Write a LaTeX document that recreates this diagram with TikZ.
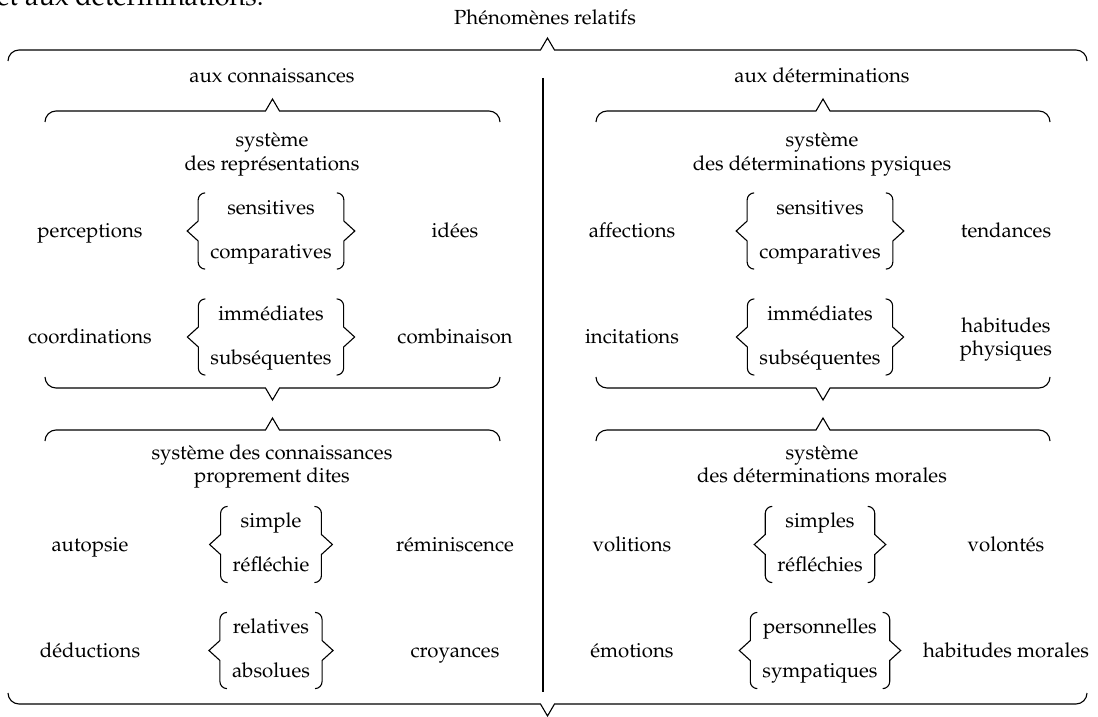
\documentclass[tikz,border=0pt]{standalone}
\usepackage[T1]{fontenc}
\usepackage{mathpazo}
\usetikzlibrary{calc, fit, positioning}

\begin{document}
\begin{tikzpicture}[
    x=0.5pt, y=0.5pt,
    font=\fontsize{10.2}{12}\selectfont,
    line width=0.55pt,
    txt/.style={inner sep=0pt, anchor=base},
    opt/.style={inner sep=0pt, anchor=base, text height=7.5pt, text depth=2.5pt},
    optbox/.style={inner xsep=2pt, inner ysep=2.5pt},
    % horizontal braces, tip up / tip down (drawn left to right)
    bracetop/.style={to path={(\tikztostart) arc[start angle=180, end angle=90, radius=11]
        -- ($(\tikztostart)!0.5!(\tikztotarget)+(-7,11)$) -- ($(\tikztostart)!0.5!(\tikztotarget)+(0,23)$)
        -- ($(\tikztostart)!0.5!(\tikztotarget)+(7,11)$) -- ($(\tikztotarget)+(-11,11)$)
        arc[start angle=90, end angle=0, radius=11]}},
    bracebot/.style={to path={(\tikztostart) arc[start angle=180, end angle=270, radius=11]
        -- ($(\tikztostart)!0.5!(\tikztotarget)+(-7,-11)$) -- ($(\tikztostart)!0.5!(\tikztotarget)+(0,-23)$)
        -- ($(\tikztostart)!0.5!(\tikztotarget)+(7,-11)$) -- ($(\tikztotarget)+(-11,-11)$)
        arc[start angle=270, end angle=360, radius=11]}},
    % vertical braces, tip left / tip right (drawn top to bottom)
    braceleft/.style={to path={(\tikztostart) arc[start angle=90, end angle=180, radius=7]
        -- ($(\tikztostart)!0.5!(\tikztotarget)+(-7,10)$) -- ($(\tikztostart)!0.5!(\tikztotarget)+(-18,0)$)
        -- ($(\tikztostart)!0.5!(\tikztotarget)+(-7,-10)$) -- ($(\tikztotarget)+(-7,7)$)
        arc[start angle=180, end angle=270, radius=7]}},
    braceright/.style={to path={(\tikztostart) arc[start angle=90, end angle=0, radius=7]
        -- ($(\tikztostart)!0.5!(\tikztotarget)+(7,10)$) -- ($(\tikztostart)!0.5!(\tikztotarget)+(18,0)$)
        -- ($(\tikztostart)!0.5!(\tikztotarget)+(7,-10)$) -- ($(\tikztotarget)+(7,7)$)
        arc[start angle=0, end angle=-90, radius=7]}}
]
\useasboundingbox (0,0) rectangle (1098,-717);
% ---------------- HEADER ----------------
\node[txt, anchor=base west, font=\fontsize{13.5}{16}\selectfont] (prev) at (-4,-6) {et aux déterminations.};
\node[txt] (title) at (545,-25) {Phénomènes relatifs};
\coordinate (all-l) at (8,-61);
\coordinate (all-r) at (1087,-61);
\draw (all-l) to[bracetop] (all-r);
\coordinate (div-top) at (543,-78);
\coordinate (div-bot) at (543,-692);
\draw (div-top) -- (div-bot);
% ---------------- LEFT: CONNAISSANCES ----------------
\node[txt] (kn) at (272,-83) {aux connaissances};
\coordinate (kn-l) at (45,-122);
\coordinate (kn-r) at (500,-122);
\draw (kn-l) to[bracetop] (kn-r);
\node[txt] (rep1) at (272,-147) {système};
\node[txt] (rep2) at (272,-170) {des représentations};
% row 1
\node[txt] (perc) at (90,-237.5) {perceptions};
\node[opt] (perc-a) at (271,-214) {sensitives};
\node[opt] (perc-b) at (271,-258) {comparatives};
\node[txt] (idees) at (455,-237.5) {idées};
\node[optbox, fit=(perc-a) (perc-b)] (perc-opts) {};
% row 2
\node[txt] (coord) at (90,-343.5) {coordinations};
\node[opt] (coord-a) at (271,-320) {immédiates};
\node[opt] (coord-b) at (271,-364) {subséquentes};
\node[txt] (comb) at (455,-343.5) {combinaison};
\node[optbox, fit=(coord-a) (coord-b)] (coord-opts) {};
% closing / opening braces
\coordinate (rep-end-l) at (45,-377);
\coordinate (rep-end-r) at (500,-377);
\draw (rep-end-l) to[bracebot] (rep-end-r);
\coordinate (cpd-l) at (45,-441);
\coordinate (cpd-r) at (500,-441);
\draw (cpd-l) to[bracetop] (cpd-r);
\node[txt] (cpd1) at (272,-459) {système des connaissances};
\node[txt] (cpd2) at (272,-482) {proprement dites};
% row 3
\node[txt] (auto) at (90,-551) {autopsie};
\node[opt] (auto-a) at (271,-527.5) {simple};
\node[opt] (auto-b) at (271,-571.5) {réfléchie};
\node[txt] (remi) at (455,-551) {réminiscence};
\node[optbox, fit=(auto-a) (auto-b)] (auto-opts) {};
% row 4
\node[txt] (dedu) at (90,-657) {déductions};
\node[opt] (dedu-a) at (271,-633.5) {relatives};
\node[opt] (dedu-b) at (271,-677.5) {absolues};
\node[txt] (croy) at (455,-657) {croyances};
\node[optbox, fit=(dedu-a) (dedu-b)] (dedu-opts) {};
% ---------------- RIGHT: DETERMINATIONS ----------------
\node[txt] (det) at (822,-83) {aux déterminations};
\coordinate (det-l) at (596,-122);
\coordinate (det-r) at (1050,-122);
\draw (det-l) to[bracetop] (det-r);
\node[txt] (phy1) at (822,-147) {système};
\node[txt] (phy2) at (822,-170) {des déterminations pysiques};
% row 1
\node[txt] (affe) at (632,-237.5) {affections};
\node[opt] (affe-a) at (820,-214) {sensitives};
\node[opt] (affe-b) at (820,-258) {comparatives};
\node[txt] (tend) at (1006,-237.5) {tendances};
\node[optbox, fit=(affe-a) (affe-b)] (affe-opts) {};
% row 2
\node[txt] (inci) at (632,-343.5) {incitations};
\node[opt] (inci-a) at (820,-320) {immédiates};
\node[opt] (inci-b) at (820,-364) {subséquentes};
\node[txt] (hphy1) at (1006,-332) {habitudes};
\node[txt] (hphy2) at (1006,-355) {physiques};
\node[optbox, fit=(inci-a) (inci-b)] (inci-opts) {};
% closing / opening braces
\coordinate (phy-end-l) at (596,-377);
\coordinate (phy-end-r) at (1050,-377);
\draw (phy-end-l) to[bracebot] (phy-end-r);
\coordinate (mor-l) at (596,-441);
\coordinate (mor-r) at (1050,-441);
\draw (mor-l) to[bracetop] (mor-r);
\node[txt] (mor1) at (822,-459) {système};
\node[txt] (mor2) at (822,-482) {des déterminations morales};
% row 3
\node[txt] (voli) at (632,-551) {volitions};
\node[opt] (voli-a) at (820,-527.5) {simples};
\node[opt] (voli-b) at (820,-571.5) {réfléchies};
\node[txt] (volo) at (1006,-551) {volontés};
\node[optbox, fit=(voli-a) (voli-b)] (voli-opts) {};
% row 4
\node[txt] (emot) at (632,-657) {émotions};
\node[opt] (emot-a) at (820,-633.5) {personnelles};
\node[opt] (emot-b) at (820,-677.5) {sympatiques};
\node[txt] (hmor) at (1006,-657) {habitudes morales};
\node[optbox, fit=(emot-a) (emot-b)] (emot-opts) {};
% ---------------- option braces ----------------
\foreach \grp in {perc, coord, auto, dedu, affe, inci, voli, emot} {
    \draw (\grp-opts.north west) to[braceleft] (\grp-opts.south west);
    \draw (\grp-opts.north east) to[braceright] (\grp-opts.south east);
}
% ---------------- FOOTER ----------------
\coordinate (foot-l) at (8,-693);
\coordinate (foot-r) at (1087,-693);
\draw (foot-l) to[bracebot] (foot-r);
\end{tikzpicture}
\end{document}
